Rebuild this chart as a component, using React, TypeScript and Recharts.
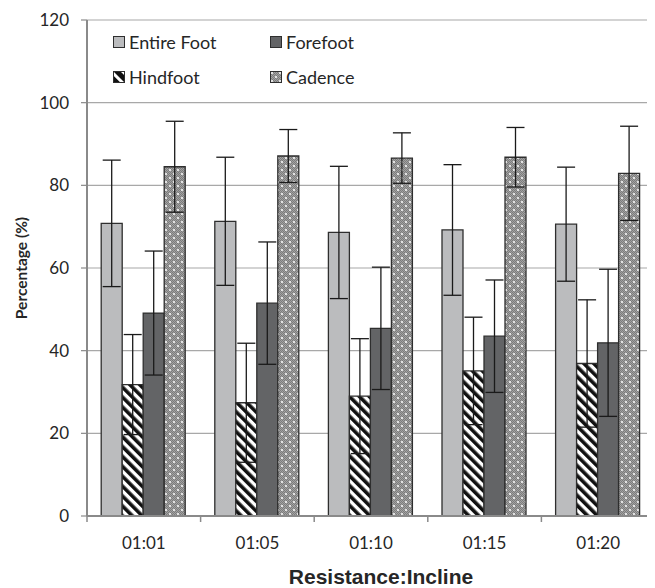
import { BarChart, Bar, XAxis, YAxis, CartesianGrid, Legend, ErrorBar } from "recharts";

const categories = ["01:01", "01:05", "01:10", "01:15", "01:20"];
const entireFoot = [70.8, 71.3, 68.6, 69.2, 70.6];
const entireFootSd = [15.3, 15.5, 16.0, 15.8, 13.8];
const hindfoot = [31.8, 27.4, 29.0, 35.1, 36.9];
const hindfootSd = [12.1, 14.4, 13.9, 13.0, 15.4];
const forefoot = [49.1, 51.5, 45.4, 43.5, 41.9];
const forefootSd = [15.0, 14.8, 14.8, 13.6, 17.8];
const cadence = [84.5, 87.1, 86.6, 86.8, 82.9];
const cadenceSd = [11.0, 6.4, 6.1, 7.2, 11.4];
const yTicks = [0, 20, 40, 60, 80, 100, 120];

const data = categories.map((name, i) => ({
  name,
  entire: entireFoot[i],
  entireSd: entireFootSd[i],
  hind: hindfoot[i],
  hindSd: hindfootSd[i],
  fore: forefoot[i],
  foreSd: forefootSd[i],
  cadence: cadence[i],
  cadenceSd: cadenceSd[i],
}));

const W = 647;
const H = 580;
const AXIS_W = 79;
const XAXIS_H = 72;
const PLOT_W = W - AXIS_W;
const HALF_CAT = PLOT_W / categories.length / 2;

const FONT = "Lato, 'Open Sans', sans-serif";
const TEXT = "#262626";
const AXIS = "#8a8a8a";
const BORDER = "#2e2e2e";

const legendRows = [
  [
    { label: "Entire Foot", fill: "#bbbcbe" },
    { label: "Forefoot", fill: "#636466" },
  ],
  [
    { label: "Hindfoot", fill: "url(#hatchIcon)" },
    { label: "Cadence", fill: "url(#dots)" },
  ],
];

function LegendBox() {
  return (
    <div style={{ fontFamily: FONT, fontSize: 18, color: TEXT }}>
      {legendRows.map((row, r) => (
        <div key={r} style={{ display: "flex", height: 22, marginBottom: 13, alignItems: "center" }}>
          {row.map((item) => (
            <div key={item.label} style={{ width: 157, display: "flex", alignItems: "center" }}>
              <svg width={12} height={12} style={{ marginRight: 4 }}>
                <rect x={0.5} y={0.5} width={11} height={11} fill={item.fill} stroke={BORDER} strokeWidth={1} />
              </svg>
              <span>{item.label}</span>
            </div>
          ))}
        </div>
      ))}
    </div>
  );
}

function XTick(props: any) {
  const { x, y, payload, index } = props;
  return (
    <g>
      <line x1={x - HALF_CAT} x2={x - HALF_CAT} y1={y - 6} y2={y} stroke={AXIS} strokeWidth={1.5} />
      {index === categories.length - 1 && (
        <line x1={x + HALF_CAT} x2={x + HALF_CAT} y1={y - 6} y2={y} stroke={AXIS} strokeWidth={1.5} />
      )}
      <text x={x} y={y + 27} textAnchor="middle" fontSize={17} fontFamily={FONT} fill={TEXT}>
        {payload.value}
      </text>
    </g>
  );
}

function XTitle(props: any) {
  const vb = props.viewBox;
  return (
    <text
      x={vb.x + vb.width / 2 + 10}
      y={vb.y + 68}
      textAnchor="middle"
      fontSize={21}
      fontWeight="bold"
      fontFamily="'Liberation Sans', Arial, sans-serif"
      fill={TEXT}
    >
      Resistance:Incline
    </text>
  );
}

function YTitle(props: any) {
  const vb = props.viewBox;
  const cx = 13;
  const cy = vb.y + vb.height / 2;
  return (
    <text
      x={cx}
      y={cy}
      transform={`rotate(-90 ${cx} ${cy})`}
      textAnchor="middle"
      dominantBaseline="central"
      fontSize={15.5}
      fontWeight="bold"
      fontFamily={FONT}
      fill={TEXT}
    >
      Percentage (%)
    </text>
  );
}

const dotCells = Array.from({ length: 32 }, (_, k) => k);

export default function App() {
  return (
    <div style={{ fontFamily: FONT }}>
      <svg width={0} height={0} style={{ position: "absolute" }}>
        <defs>
          <pattern id="hatch" patternUnits="userSpaceOnUse" width={7} height={7} patternTransform="rotate(-45)">
            <rect width={7} height={7} fill="#ffffff" />
            <rect width={3.6} height={7} fill="#111111" />
          </pattern>
          <pattern id="hatchIcon" patternUnits="userSpaceOnUse" width={8} height={8} patternTransform="rotate(-45)">
            <rect width={8} height={8} fill="#ffffff" />
            <rect width={5} height={8} fill="#111111" />
          </pattern>
          <pattern id="dots" patternUnits="userSpaceOnUse" width={8} height={8}>
            <rect width={8} height={8} fill="#a2a2a2" />
            {dotCells.map((k) => {
              const row = Math.floor(k / 4);
              const col = (k % 4) * 2 + (row % 2);
              return <rect key={k} x={col} y={row} width={1} height={1} fill="#7c7c7c" />;
            })}
            <circle cx={2} cy={2} r={1} fill="#ffffff" />
            <circle cx={6} cy={6} r={1} fill="#ffffff" />
          </pattern>
        </defs>
      </svg>
      <BarChart
        width={W}
        height={H}
        data={data}
        margin={{ top: 12, right: 0, bottom: 0, left: 0 }}
        barCategoryGap="12.5%"
        barGap={0}
      >
        <CartesianGrid vertical={false} stroke="#a8a8a8" strokeWidth={1.2} />
        <XAxis
          dataKey="name"
          height={XAXIS_H}
          tickLine={false}
          tickSize={6}
          tickMargin={0}
          tick={<XTick />}
          interval={0}
          axisLine={{ stroke: AXIS, strokeWidth: 2 }}
          label={<XTitle />}
        />
        <YAxis
          width={AXIS_W}
          domain={[0, 120]}
          ticks={yTicks}
          tickSize={6}
          tickMargin={12}
          tick={{ fill: TEXT, fontSize: 17, fontFamily: FONT }}
          tickLine={{ stroke: AXIS, strokeWidth: 1.2 }}
          axisLine={{ stroke: AXIS, strokeWidth: 2 }}
          label={<YTitle />}
        />
        <Legend
          layout="vertical"
          align="center"
          verticalAlign="middle"
          content={<LegendBox />}
          wrapperStyle={{ top: 23, left: 105, width: 330 }}
        />
        <Bar dataKey="entire" name="Entire Foot" fill="#bbbcbe" stroke={BORDER} strokeWidth={1.3} isAnimationActive={false}>
          <ErrorBar dataKey="entireSd" width={9} stroke="#1a1a1a" strokeWidth={1.3} />
        </Bar>
        <Bar dataKey="hind" name="Hindfoot" fill="url(#hatch)" stroke={BORDER} strokeWidth={1.3} isAnimationActive={false}>
          <ErrorBar dataKey="hindSd" width={9} stroke="#1a1a1a" strokeWidth={1.3} />
        </Bar>
        <Bar dataKey="fore" name="Forefoot" fill="#636466" stroke={BORDER} strokeWidth={1.3} isAnimationActive={false}>
          <ErrorBar dataKey="foreSd" width={9} stroke="#1a1a1a" strokeWidth={1.3} />
        </Bar>
        <Bar dataKey="cadence" name="Cadence" fill="url(#dots)" stroke={BORDER} strokeWidth={1.3} isAnimationActive={false}>
          <ErrorBar dataKey="cadenceSd" width={9} stroke="#1a1a1a" strokeWidth={1.3} />
        </Bar>
      </BarChart>
    </div>
  );
}
